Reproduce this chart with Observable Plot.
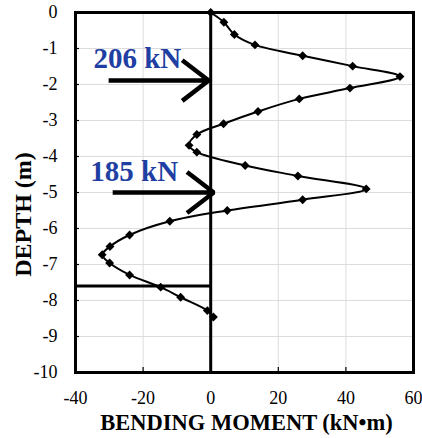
<!DOCTYPE html>
<html>
<head>
<meta charset="utf-8">
<script src="https://cdn.jsdelivr.net/npm/d3@7"></script>
<script src="https://cdn.jsdelivr.net/npm/@observablehq/plot@0.6"></script>
<style>
  html, body { margin: 0; padding: 0; background: #fff; }
  #chart svg { display: block; }
</style>
</head>
<body>
<div id="chart"></div>
<script>
// Bending moment profile
const moment = [0, 3.9, 7.0, 13.1, 27.2, 42.0, 56.0, 41.2, 26.2, 14.0, 3.8, -4.1, -6.4, -4.1, 10.2, 25.8, 46.0, 27.2, 4.9, -12.1, -24.0, -29.8, -32.1, -29.9, -24.0, -14.8, -8.9, -1.0, 0.8];
const depth  = [0, -0.27, -0.61, -0.90, -1.20, -1.49, -1.78, -2.10, -2.40, -2.75, -3.09, -3.39, -3.69, -3.88, -4.25, -4.54, -4.90, -5.20, -5.50, -5.80, -6.18, -6.50, -6.73, -6.96, -7.29, -7.63, -7.91, -8.28, -8.46];

// Load annotations
const loadLabels = ["206 kN", "185 kN"];
const loadDepth = [-1.89, -5.0];
const arrowStart = [-30.2, -29.0];
const arrowEnd = [-0.6, 0.9];
const labelX = [-34.7, -35.6];
const labelDepth = [-1.28, -4.42];

// Excavation level line
const excavationDepth = [-7.6];

// Axis ticks
const xTicks = [-40, -20, 0, 20, 40, 60];
const yTicks = [0, -1, -2, -3, -4, -5, -6, -7, -8, -9, -10];

const data = moment.map((m, i) => ({m, d: depth[i]}));
const loads = loadLabels.map((t, i) => ({t, d: loadDepth[i], x1: arrowStart[i], x2: arrowEnd[i], lx: labelX[i], ld: labelDepth[i]}));

const serif = "Liberation Serif, Times New Roman, serif";
const fmt = d => String(d);

const chart = Plot.plot({
  width: 422,
  height: 438,
  marginLeft: 75,
  marginRight: 9,
  marginTop: 12,
  marginBottom: 66,
  style: {fontFamily: serif, fontSize: "18px", color: "#000", background: "#fff"},
  x: {domain: [-40, 60], label: null},
  y: {domain: [-10, 0], label: null},
  marks: [
    Plot.gridX(xTicks, {stroke: "#dcdcdc", strokeOpacity: 1, strokeWidth: 1}),
    Plot.gridY(yTicks, {stroke: "#dcdcdc", strokeOpacity: 1, strokeWidth: 1}),
    Plot.axisX(xTicks, {tickSize: 0, tickPadding: 19, fontSize: 18, fontFamily: serif, tickFormat: fmt}),
    Plot.axisY(yTicks, {tickSize: 0, tickPadding: 18, fontSize: 18, fontFamily: serif, tickFormat: fmt}),
    Plot.axisX(xTicks, {tickSize: 5, tickFormat: () => "", dy: -5, strokeWidth: 1.2}),
    Plot.axisY(yTicks, {tickSize: 4, tickFormat: () => "", dx: 4, strokeWidth: 1.2}),
    Plot.text(["BENDING MOMENT (kN\u2022m)"], {frameAnchor: "bottom", dy: 57, dx: 2, fontWeight: "bold", fontSize: 22.5, fontFamily: serif, fill: "#000"}),
    Plot.text(["DEPTH (m)"], {frameAnchor: "left", textAnchor: "middle", lineAnchor: "middle", rotate: -90, dx: -52, dy: 22, fontWeight: "bold", fontSize: 24, fontFamily: serif, fill: "#000"}),
    Plot.ruleX([0], {stroke: "#000", strokeWidth: 3}),
    Plot.ruleY(excavationDepth, {x1: -40, x2: 0, stroke: "#000", strokeWidth: 3}),
    Plot.frame({stroke: "#000", strokeWidth: 3}),
    Plot.line(data, {x: "m", y: "d", curve: "catmull-rom", stroke: "#000", strokeWidth: 2}),
    Plot.dot(data, {x: "m", y: "d", symbol: "diamond2", r: 4, fill: "#000", stroke: "none"}),
    Plot.arrow(loads, {x1: "x1", x2: "x2", y1: "d", y2: "d", stroke: "#000", strokeWidth: 4.5, headLength: 13, headAngle: 75, strokeLinecap: "butt"}),
    Plot.text(loads, {x: "lx", y: "ld", text: "t", textAnchor: "start", lineAnchor: "middle", fontWeight: "bold", fontSize: 29, fontFamily: serif, fill: "#1f3fa3"})
  ]
});
document.getElementById("chart").appendChild(chart);
</script>
</body>
</html>
